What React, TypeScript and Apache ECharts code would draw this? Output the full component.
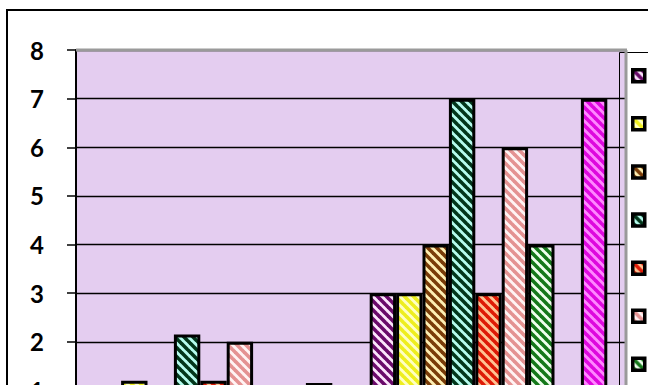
import React, { useEffect, useRef } from "react";
import * as echarts from "echarts";

// Two groups of nine hatched bars on a 0–8 scale
const categories = ["1", "2"];
const yTicks = [0, 1, 2, 3, 4, 5, 6, 7, 8];

const seriesNames = [
  "Series 1",
  "Series 2",
  "Series 3",
  "Series 4",
  "Series 5",
  "Series 6",
  "Series 7",
  "Series 8",
  "Series 9",
];

const purpleValues = [1, 3];
const yellowValues = [1.2, 3];
const brownValues = [1, 4];
const tealValues = [2.15, 7];
const orangeValues = [1.2, 3];
const pinkValues = [2, 6];
const greenValues = [1.1, 4];
const blueValues = [1, 1];
const magentaValues = [1.15, 7];

const seriesValues = [
  purpleValues,
  yellowValues,
  brownValues,
  tealValues,
  orangeValues,
  pinkValues,
  greenValues,
  blueValues,
  magentaValues,
];

// [background, stripe] of each hatch fill
const hatchColors: [string, string][] = [
  ["#FCE6FC", "#6A0A6A"],
  ["#FFFFC4", "#EEEE1E"],
  ["#FFF0B4", "#7A3C08"],
  ["#B6FCEE", "#02361A"],
  ["#FFC494", "#DE1A06"],
  ["#FFF4F4", "#E49292"],
  ["#F0FFEE", "#15781A"],
  ["#D6D6FF", "#1414C0"],
  ["#FF88FF", "#DE08DE"],
];

// Diagonal "\" stripe tile used as a repeating pattern fill
function hatch(bg: string, fg: string) {
  const size = 9;
  const c = document.createElement("canvas");
  c.width = size;
  c.height = size;
  const g = c.getContext("2d")!;
  g.fillStyle = bg;
  g.fillRect(0, 0, size, size);
  g.strokeStyle = fg;
  g.lineWidth = 3.6;
  for (const o of [-size, 0, size]) {
    g.beginPath();
    g.moveTo(o - 1, -1);
    g.lineTo(o + size + 1, size + 1);
    g.stroke();
  }
  return {
    image: c.toDataURL(),
    repeat: "repeat",
    imageWidth: size,
    imageHeight: size,
  } as any;
}

export default function App() {
  const ref = useRef<HTMLDivElement>(null);

  useEffect(() => {
    if (!ref.current) return;
    const chart = echarts.init(ref.current, null, { renderer: "svg" });

    const gridLeft = 76;
    const gridTop = 50;
    const gridWidth = 550;
    const gridHeight = 389;

    const series = seriesNames.map((name, i) => ({
      name,
      type: "bar",
      data: seriesValues[i],
      barWidth: 26.4,
      barGap: "0%",
      itemStyle: {
        color: hatch(hatchColors[i][0], hatchColors[i][1]),
        borderColor: "#000",
        borderWidth: 3,
      },
    }));

    chart.setOption({
      animation: false,
      backgroundColor: "#fff",
      grid: {
        left: gridLeft,
        top: gridTop,
        width: gridWidth,
        height: gridHeight,
        show: true,
        backgroundColor: "#E4CDF0",
        borderWidth: 0,
      },
      xAxis: {
        type: "category",
        data: categories,
        axisLine: { lineStyle: { color: "#000", width: 2 } },
        axisTick: { show: false },
        axisLabel: { show: false },
      },
      yAxis: {
        type: "value",
        min: yTicks[0],
        max: yTicks[yTicks.length - 1],
        interval: 1,
        axisLine: { show: true, lineStyle: { color: "#000", width: 2 } },
        axisTick: {
          show: true,
          inside: false,
          length: 9,
          lineStyle: { color: "#000", width: 1.5 },
        },
        axisLabel: {
          margin: 32,
          color: "#000",
          fontFamily: "Lato",
          fontWeight: "bold",
          fontSize: 24,
        },
        splitLine: { lineStyle: { color: "#000", width: 1.3 } },
      },
      legend: {
        orient: "vertical",
        left: 631,
        top: 68,
        padding: 0,
        itemWidth: 12,
        itemHeight: 12,
        itemGap: 32.6,
        icon: "rect",
        selectedMode: false,
        formatter: () => "",
        itemStyle: { borderColor: "#000", borderWidth: 3.5 },
        data: seriesNames,
      },
      graphic: [
        {
          type: "rect",
          z: 10,
          silent: true,
          shape: { x: 7, y: 10, width: 900, height: 700 },
          style: { fill: "none", stroke: "#000", lineWidth: 2 },
        },
        {
          type: "line",
          z: 10,
          silent: true,
          shape: { x1: gridLeft, y1: gridTop, x2: gridLeft + gridWidth + 1, y2: gridTop },
          style: { stroke: "#9A9A9A", lineWidth: 3 },
        },
        {
          type: "line",
          z: 10,
          silent: true,
          shape: {
            x1: gridLeft + gridWidth,
            y1: gridTop,
            x2: gridLeft + gridWidth,
            y2: gridTop + gridHeight,
          },
          style: { stroke: "#9A9A9A", lineWidth: 3 },
        },
        {
          type: "rect",
          z: 9,
          silent: true,
          shape: { x: 619.5, y: 52.5, width: 300, height: 600 },
          style: { fill: "none", stroke: "#000", lineWidth: 1 },
        },
      ],
      series,
    });

    return () => chart.dispose();
  }, []);

  return (
    <div
      style={{
        position: "fixed",
        left: 0,
        top: 0,
        width: 648,
        height: 385,
        overflow: "hidden",
        background: "#fff",
      }}
    >
      <div ref={ref} style={{ width: 800, height: 520 }} />
    </div>
  );
}
